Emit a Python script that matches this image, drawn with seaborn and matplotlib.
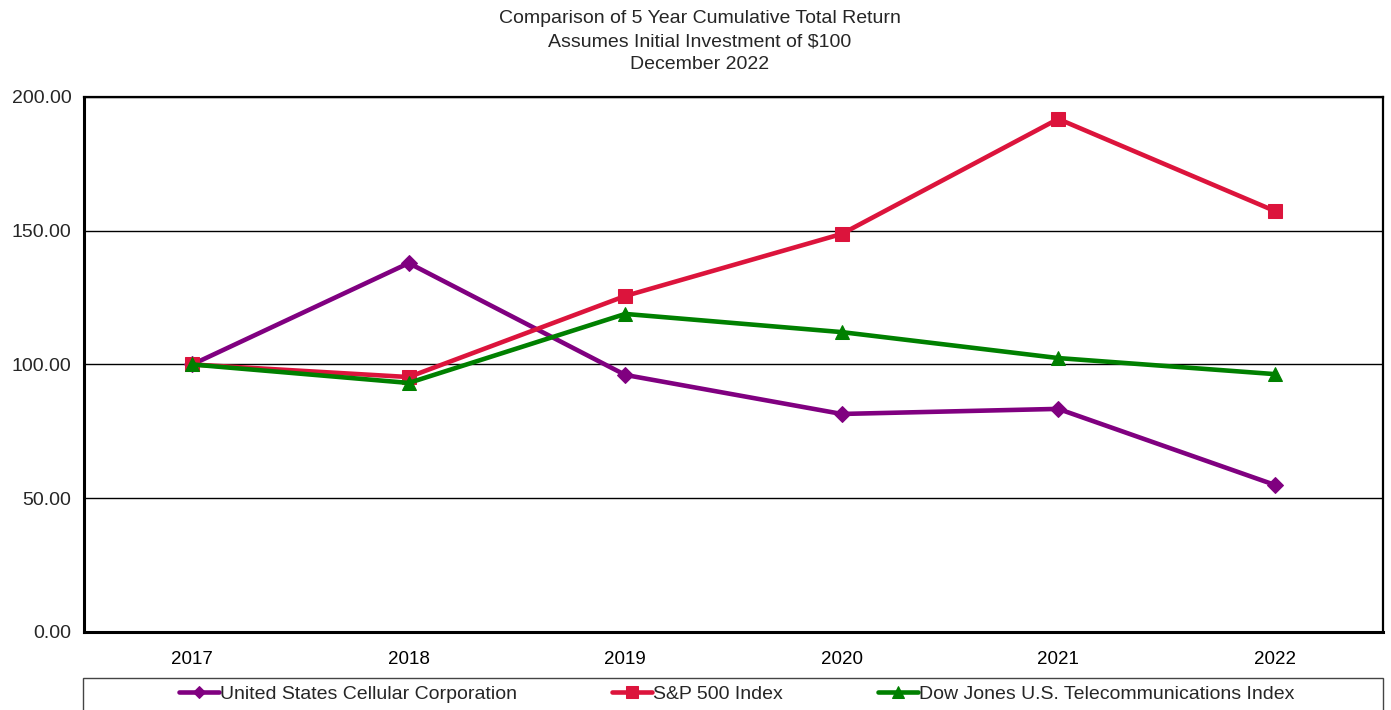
import matplotlib
matplotlib.use("Agg")
import matplotlib.pyplot as plt
import seaborn as sns
import pandas as pd
from matplotlib.patches import Rectangle

years = [2017, 2018, 2019, 2020, 2021, 2022]
usm = [100.0, 137.9, 96.1, 81.5, 83.4, 55.0]
sp500 = [100.0, 95.3, 125.6, 148.8, 191.8, 157.4]
dj_telecom = [100.0, 93.1, 118.9, 112.1, 102.4, 96.4]

series_names = ["United States Cellular Corporation", "S&P 500 Index",
                "Dow Jones U.S. Telecommunications Index"]
series_values = [usm, sp500, dj_telecom]
colors = ["#800080", "#DC143C", "#008000"]
markers = ["D", "s", "^"]
msizes = [8, 10, 10]

df = pd.concat([pd.DataFrame({"Year": years, "Value": v, "Series": n})
                for n, v in zip(series_names, series_values)])

sns.set_style("white")
plt.rcParams['font.family'] = ['Liberation Sans', 'DejaVu Sans']

fig = plt.figure(figsize=(13.91, 7.10), dpi=100)
ax = fig.add_axes([0.0604, 0.1099, 0.9338, 0.7535])

for name, col, mk, ms in zip(series_names, colors, markers, msizes):
    sub = df[df["Series"] == name]
    sns.lineplot(data=sub, x="Year", y="Value", ax=ax, color=col, linewidth=3.3,
                 marker=mk, markersize=ms, markeredgecolor=col, label=name,
                 zorder=3)

ax.set_xlim(2016.5, 2022.5)
ax.set_ylim(0, 200)
ax.set_xticks(years)
ax.set_xticklabels([str(y) for y in years])
ax.set_yticks([0, 50, 100, 150, 200])
ax.set_yticklabels([f"{v:.2f}" for v in [0, 50, 100, 150, 200]])
ax.set_xlabel("")
ax.set_ylabel("")
ax.grid(True, axis='y', color='black', linewidth=1)
ax.set_axisbelow(True)
ax.tick_params(axis='y', direction='out', length=5, width=1, labelsize=14, pad=4)
ax.tick_params(axis='x', direction='in', length=4, width=0.8, colors='#aaaaaa',
               labelcolor='black', labelsize=13.5, pad=14)
for side in ['left', 'bottom']:
    ax.spines[side].set_linewidth(2.2)
    ax.spines[side].set_color('black')
for side in ['top', 'right']:
    ax.spines[side].set_linewidth(1.6)
    ax.spines[side].set_color('black')

fig.text(0.503, 0.986, "Comparison of 5 Year Cumulative Total Return\n"
         "Assumes Initial Investment of $100\nDecember 2022",
         ha='center', va='top', fontsize=14, linespacing=1.47)

# legend box across the bottom
fig.patches.append(Rectangle((83 / 1391, -0.05), 1300 / 1391, 0.05 + 32 / 710,
                             transform=fig.transFigure, fill=False,
                             edgecolor='#444444', linewidth=1))
handles, labels = ax.get_legend_handles_labels()
ax.get_legend().remove()
fig.legend(handles, labels, loc='center', bbox_to_anchor=(0.5298, 0.022), ncol=3,
           frameon=False, fontsize=14, handlelength=2.05, handletextpad=0.05,
           columnspacing=4.9, markerscale=0.8)

plt.savefig("out.png", dpi=100)
